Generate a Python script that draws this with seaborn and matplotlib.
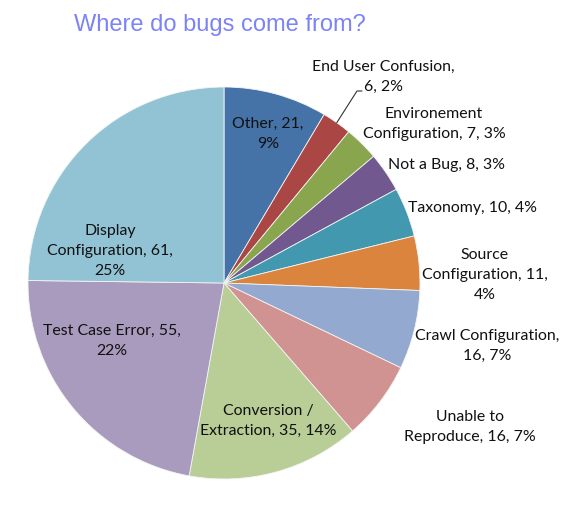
import numpy as np
import matplotlib
matplotlib.use("Agg")
import matplotlib.pyplot as plt
import seaborn as sns

categories = ["Other", "End User Confusion", "Environement Configuration", "Not a Bug",
              "Taxonomy", "Source Configuration", "Crawl Configuration",
              "Unable to Reproduce", "Conversion / Extraction", "Test Case Error",
              "Display Configuration"]
values = [21, 6, 7, 8, 10, 11, 16, 16, 35, 55, 61]
label_texts = ["Other, 21,\n9%",
               "End User Confusion,\n6, 2%",
               "Environement\nConfiguration, 7, 3%",
               "Not a Bug, 8, 3%",
               "Taxonomy, 10, 4%",
               "Source\nConfiguration, 11,\n4%",
               "Crawl Configuration,\n16, 7%",
               "Unable to\nReproduce, 16, 7%",
               "Conversion /\nExtraction, 35, 14%",
               "Test Case Error, 55,\n22%",
               "Display\nConfiguration, 61,\n25%"]
colors = ["#4572A7", "#AA4643", "#89A54E", "#71588F", "#4198AF", "#DB843D",
          "#93A9CF", "#D19392", "#B9CD96", "#A99BBD", "#92C3D4"]

sns.set_theme(style="white")
plt.rcParams['font.family'] = ['Lato', 'DejaVu Sans']

W, H = 570, 505
fig = plt.figure(figsize=(W / 100, H / 100), dpi=100)
ax = fig.add_axes([0, 0, 1, 1])

cx, cy, R = 224, H - 283, 196
wedges, _ = ax.pie(values, colors=sns.color_palette(colors), startangle=90,
                   counterclock=False, center=(cx, cy), radius=R, frame=True,
                   wedgeprops=dict(linewidth=0.6, edgecolor="#f4f4f4"))
ax.set_xlim(0, W)
ax.set_ylim(0, H)
ax.set_aspect('equal')
ax.axis('off')

label_pos = [(268, 134), (383, 77), (434, 124), (447, 165), (472, 208),
             (485, 275), (487, 346), (470, 427), (268, 421), (112, 341), (110, 251)]
for txt, (px, py) in zip(label_texts, label_pos):
    ax.text(px, H - py, txt, ha='center', va='center', fontsize=11.4,
            color='#111111', linespacing=1.55)

# leader line for End User Confusion
total = sum(values)
cum = sum(values[:1]) + values[1] / 2
ang = np.deg2rad(cum / total * 360)
ex, ey = cx + R * np.sin(ang), cy + R * np.cos(ang)
ax.plot([ex, 357, 362], [ey, H - 91, H - 91], color='#333333', lw=0.8)

fig.text(220 / W, 1 - 25 / H, "Where do bugs come from?", ha='center', va='center',
         fontsize=17, color='#7B83F7', family=['Liberation Sans', 'DejaVu Sans'])

fig.savefig("out.png", dpi=100, facecolor='white')
